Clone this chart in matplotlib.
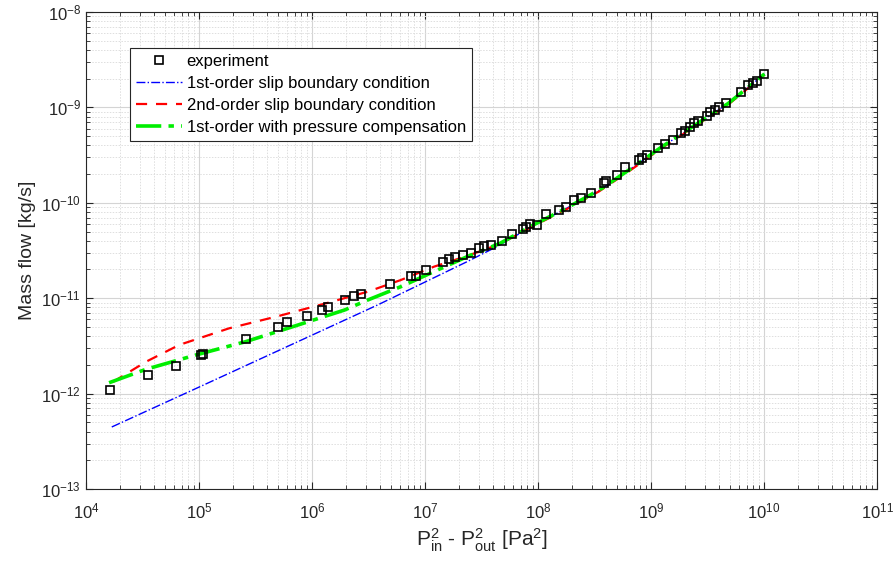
import numpy as np
import matplotlib
matplotlib.use("Agg")
from matplotlib import pyplot as plt

plt.rcParams["font.family"] = ["Liberation Sans", "DejaVu Sans"]
plt.rcParams["mathtext.default"] = "regular"

# experiment (P_in^2 - P_out^2 [Pa^2], mass flow [kg/s])
exp_dp2 = [1.63e4, 3.57e4, 6.3e4, 1.05e5, 1.09e5, 2.61e5, 4.95e5, 5.97e5, 9.0e5,
           1.22e6, 1.39e6, 1.94e6, 2.34e6, 2.72e6, 4.89e6, 7.48e6, 8.28e6, 1.03e7,
           1.44e7, 1.63e7, 1.86e7, 2.17e7, 2.56e7, 3.03e7, 3.33e7, 3.82e7, 4.77e7,
           5.84e7, 7.39e7, 7.9e7, 8.45e7, 9.7e7, 1.17e8, 1.52e8, 1.78e8, 2.1e8,
           2.4e8, 2.96e8, 3.86e8, 3.98e8, 5.05e8, 5.9e8, 7.84e8, 8.4e8, 9.27e8,
           1.16e9, 1.34e9, 1.56e9, 1.85e9, 2.0e9, 2.22e9, 2.42e9, 2.63e9, 3.11e9,
           3.33e9, 3.68e9, 3.99e9, 4.57e9, 6.3e9, 7.2e9, 7.98e9, 8.65e9, 1.01e10]
exp_mass = [1.1e-12, 1.55e-12, 1.95e-12, 2.55e-12, 2.6e-12, 3.7e-12, 5.0e-12, 5.6e-12, 6.5e-12,
            7.6e-12, 8.1e-12, 9.5e-12, 1.05e-11, 1.1e-11, 1.42e-11, 1.72e-11, 1.72e-11, 1.98e-11,
            2.4e-11, 2.58e-11, 2.7e-11, 2.85e-11, 3.0e-11, 3.35e-11, 3.5e-11, 3.62e-11, 3.95e-11,
            4.7e-11, 5.3e-11, 5.6e-11, 6.0e-11, 5.9e-11, 7.6e-11, 8.4e-11, 9.1e-11, 1.07e-10,
            1.11e-10, 1.26e-10, 1.63e-10, 1.68e-10, 1.97e-10, 2.35e-10, 2.78e-10, 2.95e-10, 3.17e-10,
            3.75e-10, 4.15e-10, 4.5e-10, 5.35e-10, 5.6e-10, 6.3e-10, 6.8e-10, 7.2e-10, 8.2e-10,
            8.9e-10, 9.4e-10, 1.0e-9, 1.11e-9, 1.44e-9, 1.7e-9, 1.8e-9, 1.88e-9, 2.22e-9]

# model curves
first_dp2 = [1.69e4, 1.0e5, 1.0e6, 3.81e6, 8.55e6, 2.35e7, 4.32e7, 9.06e7, 1.77e8,
             3.48e8, 6.38e8, 1.25e9, 2.46e9, 4.82e9, 1.01e10]
first_mass = [4.47e-13, 1.17e-12, 4.1e-12, 8.5e-12, 1.35e-11, 2.41e-11, 3.47e-11, 5.75e-11, 8.7e-11,
              1.35e-10, 2.2e-10, 3.86e-10, 6.5e-10, 1.1e-9, 2.24e-9]

second_dp2 = [1.74e4, 3.4e4, 6.69e4, 1.84e5, 5.05e5, 1.39e6, 3.11e6, 6.1e6, 1.2e7, 2.35e7,
              4.61e7, 9.06e7, 1.77e8, 3.48e8, 6.38e8, 1.25e9, 2.46e9, 4.82e9, 1.01e10]
second_mass = [1.33e-12, 2.16e-12, 3.24e-12, 4.83e-12, 6.5e-12, 8.97e-12, 1.17e-11, 1.55e-11, 2.14e-11, 2.77e-11,
               3.7e-11, 5.7e-11, 8.5e-11, 1.32e-10, 2.14e-10, 3.76e-10, 6.35e-10, 1.07e-9, 2.2e-9]

comp_dp2 = [1.6e4, 3.4e4, 9.37e4, 2.58e5, 7.08e5, 1.94e6, 3.11e6, 6.1e6, 1.2e7, 2.35e7,
            4.61e7, 9.06e7, 1.77e8, 3.48e8, 6.38e8, 1.25e9, 2.46e9, 4.82e9, 1.01e10]
comp_mass = [1.3e-12, 1.8e-12, 2.54e-12, 3.5e-12, 5.12e-12, 7.52e-12, 9.57e-12, 1.32e-11, 1.9e-11, 2.72e-11,
             3.76e-11, 5.85e-11, 8.75e-11, 1.36e-10, 2.21e-10, 3.87e-10, 6.55e-10, 1.1e-9, 2.24e-9]

fig = plt.figure(figsize=(8.95, 5.63), dpi=100)
ax = fig.add_axes([0.0961, 0.1314, 0.8838, 0.8473])

ax.plot(exp_dp2, exp_mass, "s", mfc="none", mec="black", ms=6, mew=1.2, label="experiment", zorder=5)
ax.plot(first_dp2, first_mass, color="#0000ff", ls="-.", lw=1.0, label="1st-order slip boundary condition")
ax.plot(second_dp2, second_mass, color="#ff0000", ls=(0, (5, 4)), lw=1.6, label="2nd-order slip boundary condition")
ax.plot(comp_dp2, comp_mass, color="#00ee00", ls=(0, (7, 2, 1.5, 2)), lw=2.6,
        label="1st-order with pressure compensation")

ax.set_xscale("log")
ax.set_yscale("log")
ax.set_xlim(1e4, 1e11)
ax.set_ylim(1e-13, 1e-8)
ax.set_xticks([10.0 ** k for k in range(4, 12)])
ax.set_yticks([10.0 ** k for k in range(-13, -7)])

ax.grid(which="major", color="#d4d4d4", lw=0.8, ls="-")
ax.grid(which="minor", color="#dedede", lw=0.7, ls=(0, (1.5, 1.5)))
ax.set_axisbelow(True)
ax.tick_params(which="both", direction="in", top=True, right=True, colors="#262626",
               labelcolor="#262626", labelsize=12)
ax.tick_params(which="major", length=5)
ax.tick_params(which="minor", length=3)
ax.tick_params(axis="x", pad=9)
for s in ax.spines.values():
    s.set_color("#262626")
    s.set_linewidth(0.8)

ax.set_xlabel("P$_{in}^{2}$ - P$_{out}^{2}$ [Pa$^{2}$]", fontsize=15, color="#262626")
ax.set_ylabel("Mass flow [kg/s]", fontsize=14, color="#262626")

leg = ax.legend(loc="upper left", bbox_to_anchor=(0.0556, 0.9245), borderaxespad=0, fontsize=12,
                frameon=True, fancybox=False, edgecolor="#262626", framealpha=1, handlelength=2.8,
                handletextpad=0.25, borderpad=0.35, labelspacing=0.42)
leg.get_frame().set_linewidth(0.8)

plt.savefig("out.png", dpi=100)
plt.close()
